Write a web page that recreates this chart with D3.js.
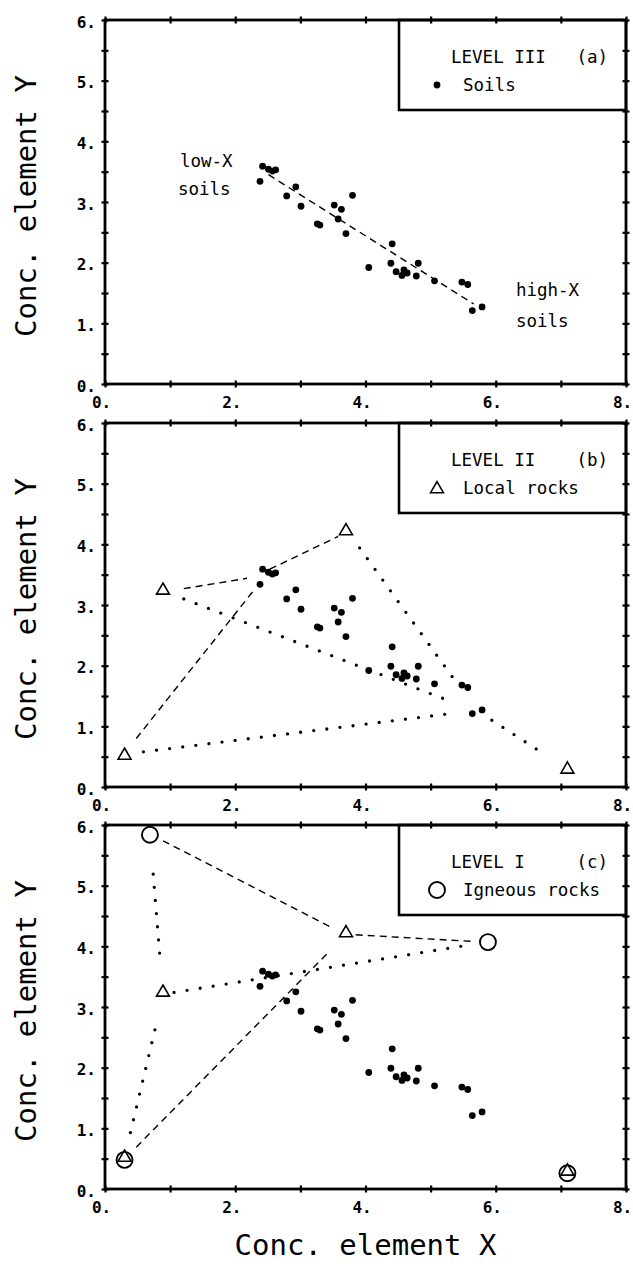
<!DOCTYPE html>
<html>
<head>
<meta charset="utf-8">
<script src="https://cdn.jsdelivr.net/npm/d3@7"></script>
<style>
  body { margin: 0; background: #fff; }
  svg { display: block; }
  text { font-family: "DejaVu Sans Mono", "Liberation Mono", monospace; fill: #000; }
</style>
</head>
<body>
<div class="chart"></div>
<script>
// soils (same cloud in all three panels)
var soilX = [2.38, 2.42, 2.51, 2.57, 2.62, 2.79, 2.93, 3.01, 3.26, 3.30, 3.52, 3.63, 3.58, 3.70, 3.80,
             4.05, 4.41, 4.39, 4.47, 4.56, 4.59, 4.64, 4.78, 4.81, 5.06, 5.48, 5.57, 5.64, 5.79];
var soilY = [3.34, 3.59, 3.54, 3.51, 3.53, 3.10, 3.25, 2.93, 2.64, 2.62, 2.95, 2.88, 2.72, 2.48, 3.11,
             1.92, 2.31, 1.99, 1.85, 1.79, 1.88, 1.83, 1.78, 1.99, 1.70, 1.68, 1.64, 1.21, 1.27];

// local rocks (triangles) and igneous rocks (circles)
var rockX = [0.30, 0.89, 3.70, 7.10];
var rockY = [0.52, 3.24, 4.22, 0.29];
var igneousX = [0.69, 5.88, 0.30, 7.10];
var igneousY = [5.84, 4.07, 0.48, 0.26];

// connecting lines, [x1, y1, x2, y2]
var trendA = [[2.51, 3.45, 5.66, 1.32]];
var dashedB = [[0.48, 0.80, 2.29, 3.25], [1.21, 3.27, 2.18, 3.44], [2.53, 3.59, 3.58, 4.13]];
var dottedB = [[1.21, 3.10, 5.36, 1.39], [0.59, 0.58, 5.23, 1.20], [3.91, 3.94, 5.33, 1.82], [5.94, 1.10, 6.79, 0.51]];
var dashedC = [[0.89, 5.74, 3.50, 4.30], [3.85, 4.19, 5.66, 4.08], [0.48, 0.69, 3.43, 3.90]];
var dottedC = [[1.06, 3.24, 5.52, 4.01], [0.74, 5.19, 0.84, 3.87], [0.39, 0.93, 0.77, 2.64]];

// axes
var xTicks = [0, 1, 2, 3, 4, 5, 6, 7, 8];
var xLabels = [0, 2, 4, 6, 8];
var yTicks = [0, 0.5, 1, 1.5, 2, 2.5, 3, 3.5, 4, 4.5, 5, 5.5, 6];
var yLabels = [0, 1, 2, 3, 4, 5, 6];

var levels = ["LEVEL III", "LEVEL II", "LEVEL I"];
var tags = ["(a)", "(b)", "(c)"];
var legendItems = ["Soils", "Local rocks", "Igneous rocks"];
var notesA = [
  {text: "low-X", x: 1.15, y: 3.58},
  {text: "soils", x: 1.12, y: 3.12},
  {text: "high-X", x: 6.31, y: 1.45},
  {text: "soils", x: 6.31, y: 0.94}
];

var soils = soilX.map(function (d, i) { return {x: d, y: soilY[i]}; });
var rocks = rockX.map(function (d, i) { return {x: d, y: rockY[i]}; });
var igneous = igneousX.map(function (d, i) { return {x: d, y: igneousY[i]}; });

var width = 633, height = 1266;
var left = 105, right = 626, plotH = 364;
var tops = [20, 423, 825];
var legendLeft = 399, legendH = 90;

var svg = d3.select(".chart").append("svg")
  .attr("width", width)
  .attr("height", height);

var x = d3.scaleLinear().domain([0, 8]).range([left, right]);
var tri = d3.symbol().type(d3.symbolTriangle).size(72);

tops.forEach(function (top, p) {
  var y = d3.scaleLinear().domain([0, 6]).range([top + plotH, top]);
  var g = svg.append("g").attr("class", "panel");

  function drawLines(data, dotted) {
    g.selectAll(null)
      .data(data)
      .enter().append("line")
        .attr("x1", function (d) { return x(d[0]); })
        .attr("y1", function (d) { return y(d[1]); })
        .attr("x2", function (d) { return x(d[2]); })
        .attr("y2", function (d) { return y(d[3]); })
        .style("stroke", "#000")
        .style("stroke-width", dotted ? 3.3 : 1.4)
        .style("stroke-linecap", dotted ? "round" : "butt")
        .style("stroke-dasharray", dotted ? "0,13.2" : "7,5");
  }

  if (p === 0) drawLines(trendA, false);
  if (p === 1) { drawLines(dashedB, false); drawLines(dottedB, true); }
  if (p === 2) { drawLines(dashedC, false); drawLines(dottedC, true); }

  g.selectAll(".soil")
    .data(soils)
    .enter().append("circle")
      .attr("class", "soil")
      .attr("cx", function (d) { return x(d.x); })
      .attr("cy", function (d) { return y(d.y); })
      .attr("r", 3.4)
      .style("fill", "#000");

  if (p > 0) {
    g.selectAll(".rock")
      .data(rocks)
      .enter().append("path")
        .attr("class", "rock")
        .attr("d", tri)
        .attr("transform", function (d) { return "translate(" + x(d.x) + "," + y(d.y) + ")"; })
        .style("fill", "#fff")
        .style("stroke", "#000")
        .style("stroke-width", 1.6);
  }
  if (p === 2) {
    g.selectAll(".igneous")
      .data(igneous)
      .enter().append("circle")
        .attr("class", "igneous")
        .attr("cx", function (d) { return x(d.x); })
        .attr("cy", function (d) { return y(d.y); })
        .attr("r", 8)
        .style("fill", "none")
        .style("stroke", "#000")
        .style("stroke-width", 1.9);
  }

  if (p === 0) {
    g.selectAll(".note")
      .data(notesA)
      .enter().append("text")
        .attr("class", "note")
        .attr("x", function (d) { return x(d.x); })
        .attr("y", function (d) { return y(d.y); })
        .style("font-size", "17.5px")
        .text(function (d) { return d.text; });
  }

  // legend box
  g.append("rect")
    .attr("x", legendLeft)
    .attr("y", top)
    .attr("width", right - legendLeft)
    .attr("height", legendH)
    .style("fill", "#fff")
    .style("stroke", "#000")
    .style("stroke-width", 2.6);

  g.append("text")
    .attr("x", 451).attr("y", top + 43)
    .style("font-size", "17.5px")
    .text(levels[p]);
  g.append("text")
    .attr("x", 608).attr("y", top + 43)
    .attr("text-anchor", "end")
    .style("font-size", "17.5px")
    .text(tags[p]);
  g.append("text")
    .attr("x", 463).attr("y", top + 71)
    .style("font-size", "17.5px")
    .text(legendItems[p]);

  if (p === 0) {
    g.append("circle").attr("cx", 437).attr("cy", top + 65).attr("r", 3.4).style("fill", "#000");
  } else if (p === 1) {
    g.append("path").attr("d", tri)
      .attr("transform", "translate(437," + (top + 66) + ")")
      .style("fill", "#fff").style("stroke", "#000").style("stroke-width", 1.6);
  } else {
    g.append("circle").attr("cx", 437).attr("cy", top + 65).attr("r", 8)
      .style("fill", "none").style("stroke", "#000").style("stroke-width", 1.9);
  }

  // frame
  g.append("rect")
    .attr("x", left).attr("y", top)
    .attr("width", right - left).attr("height", plotH)
    .style("fill", "none")
    .style("stroke", "#000")
    .style("stroke-width", 2.8);

  // ticks across the frame on all four sides
  function crossTicks(axis, transform) {
    var a = g.append("g")
      .attr("transform", transform)
      .call(axis);
    a.select(".domain").remove();
    a.selectAll(".tick line")
      .attr("x1", function () { return d3.select(this).attr("x2") ? -d3.select(this).attr("x2") : 0; })
      .attr("y1", function () { return d3.select(this).attr("y2") ? -d3.select(this).attr("y2") : 0; })
      .style("stroke-width", 2.2);
    a.selectAll(".tick text").remove();
  }
  crossTicks(d3.axisBottom(x).tickValues(xTicks).tickSize(3.5), "translate(0," + (top + plotH) + ")");
  crossTicks(d3.axisTop(x).tickValues(xTicks).tickSize(3.5), "translate(0," + top + ")");
  crossTicks(d3.axisLeft(y).tickValues(yTicks).tickSize(3.5), "translate(" + left + ",0)");
  crossTicks(d3.axisRight(y).tickValues(yTicks).tickSize(3.5), "translate(" + right + ",0)");

  // tick labels
  var xl = g.append("g")
    .attr("transform", "translate(-4," + (top + plotH) + ")")
    .call(d3.axisBottom(x).tickValues(xLabels).tickSize(0).tickPadding(13)
      .tickFormat(function (d) { return d + "."; }));
  xl.select(".domain").remove();
  xl.selectAll("text")
    .style("font-family", "'DejaVu Sans Mono', monospace")
    .style("font-size", "16px")
    .style("font-weight", "bold");

  var yl = g.append("g")
    .attr("transform", "translate(" + left + ",2)")
    .call(d3.axisLeft(y).tickValues(yLabels).tickSize(0).tickPadding(9)
      .tickFormat(function (d) { return d + "."; }));
  yl.select(".domain").remove();
  yl.selectAll("text")
    .style("font-family", "'DejaVu Sans Mono', monospace")
    .style("font-size", "16px")
    .style("font-weight", "bold");

  // y title
  svg.append("text")
    .attr("transform", "translate(36," + (top + plotH / 2 + 4) + ") rotate(-90)")
    .attr("text-anchor", "middle")
    .style("font-size", "29px")
    .text("Conc. element Y");
});

svg.append("text")
  .attr("x", (left + right) / 2)
  .attr("y", 1255)
  .attr("text-anchor", "middle")
  .style("font-size", "29px")
  .text("Conc. element X");
</script>
</body>
</html>
